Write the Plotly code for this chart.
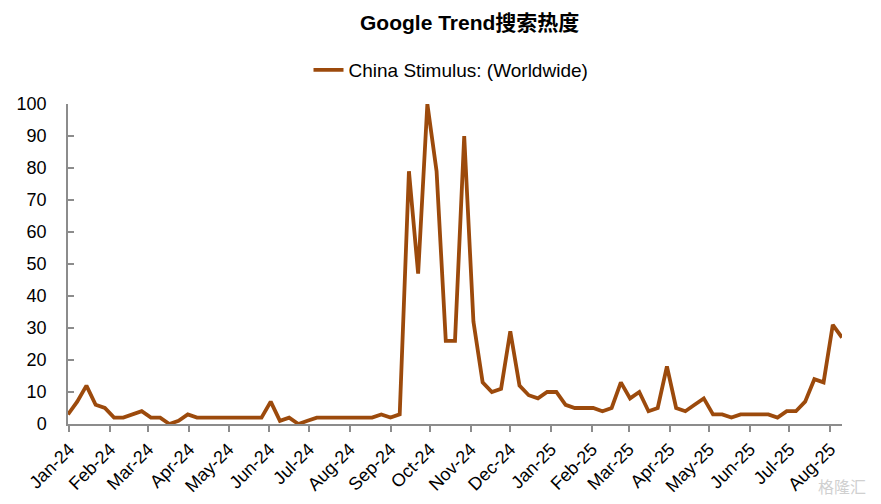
import pandas as pd
import plotly.graph_objects as go

start_date = "2023-12-31"
values = [3, 7, 12, 6, 5, 2, 2, 3, 4, 2, 2, 0, 1, 3, 2, 2, 2, 2, 2, 2, 2, 2,
          7, 1, 2, 0, 1, 2, 2, 2, 2, 2, 2, 2, 3, 2, 3,
          79, 47, 100, 79, 26, 26, 90, 32, 13, 10, 11, 29, 12, 9, 8, 10, 10,
          6, 5, 5, 5, 4, 5, 13, 8, 10, 4, 5, 18, 5, 4, 6, 8, 3, 3, 2, 3, 3,
          3, 3, 2, 4, 4, 7, 14, 13, 31, 27]
dates = pd.date_range(start_date, periods=len(values), freq="7D")
series_name = "China Stimulus: (Worldwide)"
title_text = "Google Trend搜索热度"
y_ticks = list(range(0, 101, 10))

line_color = "#9C4A0C"
axis_color = "#8C8C8C"
font_family = "Liberation Sans, Arial, Noto Sans CJK SC, sans-serif"

W, H = 873, 496  # page has an 8px body margin

fig = go.Figure()
fig.add_trace(go.Scatter(
    x=dates, y=values, mode="lines", name=series_name,
    line=dict(color=line_color, width=3.8),
))

fig.update_layout(
    width=W, height=H,
    margin=dict(l=60, r=39, t=96, b=80, autoexpand=False),
    paper_bgcolor="white", plot_bgcolor="white",
    font=dict(family=font_family, size=18, color="black"),
    showlegend=True,
    legend=dict(orientation="h", xref="container", yref="container",
                x=443 / W, xanchor="center", y=1 - 62 / H, yanchor="middle",
                font=dict(size=19, color="black"), bgcolor="rgba(0,0,0,0)"),
    annotations=[
        dict(text="<b>" + title_text + "</b>", xref="paper", yref="paper",
             x=(469 - 68) / 774, y=(424 - 8.5) / 320, xanchor="center", yanchor="top",
             showarrow=False, font=dict(size=21, color="black",
                                        family="Liberation Sans, Noto Sans CJK SC, sans-serif")),
        dict(text="格隆汇", xref="paper", yref="paper", x=(868 - 68) / 774, y=(424 - 486) / 320,
             xanchor="right", yanchor="middle", showarrow=False,
             font=dict(size=16, color="#D0D0D0", family="Noto Sans CJK SC")),
    ],
)

fig.update_xaxes(
    type="date", automargin=False,
    range=[dates[0], dates[-1]],
    tick0="2024-01-01", dtick="M1", tickformat="%b-%y",
    tickangle=-45,
    ticks="outside", ticklen=6, tickcolor=axis_color, tickwidth=1.5,
    showline=True, linecolor=axis_color, linewidth=1.5,
    showgrid=False, zeroline=False,
    tickfont=dict(size=18, color="black"),
)
fig.update_yaxes(
    automargin=False,
    range=[0, 100], tickvals=y_ticks,
    ticks="inside", ticklen=6, tickcolor=axis_color, tickwidth=1.5,
    showline=True, linecolor=axis_color, linewidth=1.5,
    showgrid=False, zeroline=False,
    ticklabelstandoff=16,
    tickfont=dict(size=18, color="black"),
)

fig.write_html("out.html")
